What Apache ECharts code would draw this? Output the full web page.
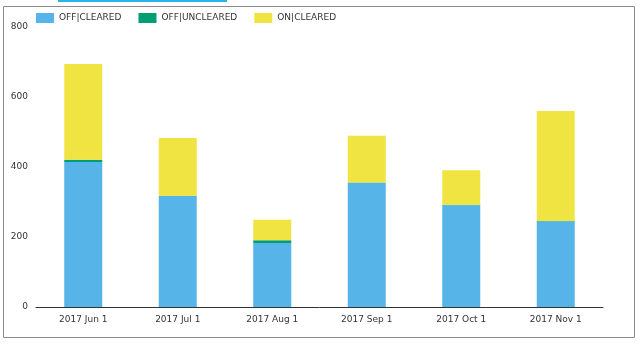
<!DOCTYPE html>
<html><head><meta charset="utf-8">
<script src="https://cdn.jsdelivr.net/npm/echarts@6/dist/echarts.min.js"></script>
<style>html,body{margin:0;padding:0;background:#fff}#c{width:640px;height:344px}</style>
</head><body><div id="c"></div>
<script>
const categories = ['2017 Jun 1','2017 Jul 1','2017 Aug 1','2017 Sep 1','2017 Oct 1','2017 Nov 1'];
const offCleared = [414, 317, 183, 355, 291, 245];
const offUncleared = [7, 1, 8, 1, 1, 1];
const onCleared = [273, 165, 58, 133, 99, 314];
const yTicks = [0, 200, 400, 600, 800];

const chart = echarts.init(document.getElementById('c'));
const font = 'DejaVu Sans, Verdana, sans-serif';
chart.setOption({
  animation: false,
  color: ['#56B4E9', '#009E73', '#F0E442'],
  grid: {left: 36, right: 37, top: 27, bottom: 37},
  legend: {
    left: 36, top: 13, padding: 0, itemWidth: 18, itemHeight: 10, itemGap: 17, icon: 'rect',
    textStyle: {fontFamily: font, fontSize: 9, color: '#333'},
    data: ['OFF|CLEARED','OFF|UNCLEARED','ON|CLEARED']
  },
  xAxis: {
    type: 'category', data: categories,
    axisLine: {lineStyle: {color: '#333', width: 1}},
    axisTick: {show: false},
    axisLabel: {fontFamily: font, fontSize: 9, color: '#333', margin: 8}
  },
  yAxis: {
    type: 'value', min: yTicks[0], max: yTicks[yTicks.length-1], interval: 200,
    splitLine: {show: false}, axisLine: {show: false}, axisTick: {show: false},
    axisLabel: {fontFamily: font, fontSize: 9, color: '#333', margin: 8}
  },
  graphic: [
    {type: 'rect', shape: {x: 3.5, y: 6.5, width: 631, height: 331}, style: {fill: 'none', stroke: '#8a8a8a', lineWidth: 1}, silent: true},
    {type: 'rect', shape: {x: 58, y: 0, width: 169, height: 2}, style: {fill: '#29b5e8'}, silent: true}
  ],
  series: [
    {name: 'OFF|CLEARED', type: 'bar', stack: 's', barWidth: 38, data: offCleared},
    {name: 'OFF|UNCLEARED', type: 'bar', stack: 's', barWidth: 38, data: offUncleared},
    {name: 'ON|CLEARED', type: 'bar', stack: 's', barWidth: 38, data: onCleared}
  ]
});
</script></body></html>
